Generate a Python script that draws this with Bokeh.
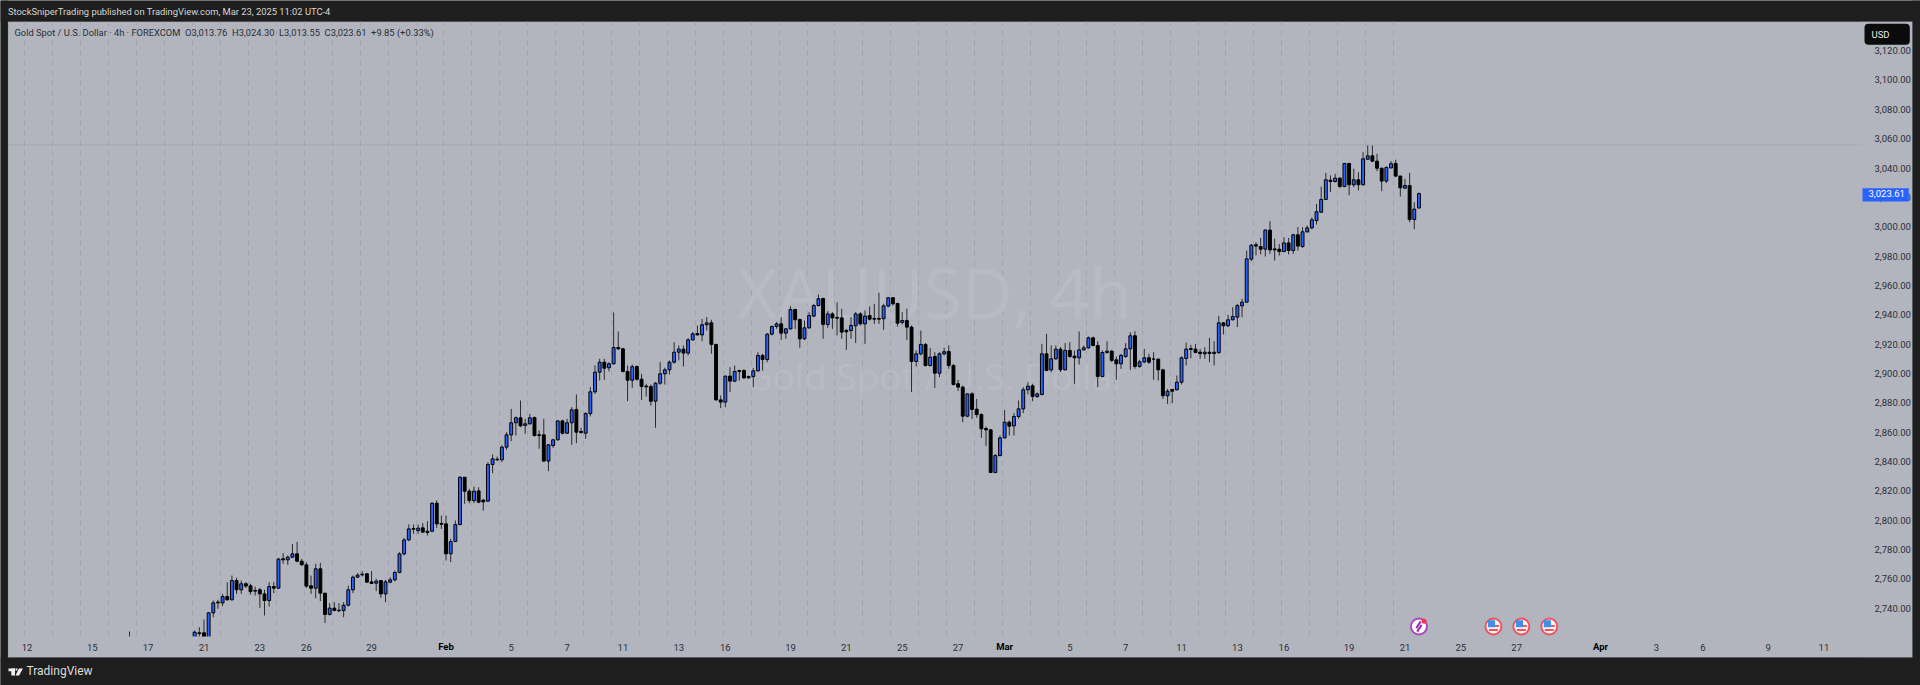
from bokeh.plotting import figure
from bokeh.embed import file_html
from bokeh.resources import INLINE
from bokeh.models import (ColumnDataSource, FixedTicker, LinearAxis, Range1d, Label, BoxAnnotation,
                          PolyAnnotation, NumeralTickFormatter, Span, Grid)

bar_index = [0] + list(range(14, 278))

opens = [2716,
 2716, 2724.3, 2724.3, 2720, 2737.9, 2745.2,
 2744.7, 2749.0, 2746.8, 2759.9, 2753.6, 2757.7, 2756.3, 2753.1, 2753.6, 2750.8,
 2746.3, 2755.8, 2754.7, 2774.7, 2774.0, 2775.8, 2778.1, 2773.1, 2770.6, 2756.3,
 2754.7, 2767.9, 2751.3, 2736.8, 2741.1, 2739.7, 2739.5, 2743.1, 2753.6, 2762.2,
 2764.2, 2764.5, 2759.0, 2758.1, 2759.9, 2750.8, 2758.8, 2760.4, 2765.4, 2778.1,
 2787.6, 2795.4, 2794.0, 2795.8, 2792.6, 2793.5, 2812.6, 2798.8, 2798.5, 2778.1,
 2786.5, 2798.1, 2830.3, 2820.8, 2814.4, 2821.0, 2814.7, 2814.0, 2839.0, 2842.6,
 2842.2, 2850.8, 2859.2, 2867.4, 2870.8, 2865.6, 2866.7, 2871.0, 2859.2, 2859.2,
 2841.3, 2851.9, 2855.8, 2868.7, 2860.3, 2867.4, 2876.5, 2861.5, 2860.3, 2873.7,
 2888.5, 2901.9, 2908.7, 2904.9, 2907.6, 2918.7, 2917.8, 2902.4, 2896.4, 2905.8,
 2897.1, 2892.4, 2892.1, 2882.1, 2894.4, 2900.8, 2903.5, 2908.7, 2915.5, 2917.6,
 2914.9, 2923.9, 2928.2, 2927.3, 2934.2, 2935.5, 2920.8, 2883.0, 2881.5, 2899.2,
 2895.8, 2903.0, 2903.0, 2898.0, 2898.9, 2902.8, 2913.3, 2910.5, 2927.8, 2933.0,
 2934.8, 2928.5, 2931.4, 2944.6, 2937.8, 2924.6, 2932.1, 2940.1, 2947.3, 2952.1,
 2934.4, 2941.6, 2939.2, 2938.9, 2930.3, 2930.3, 2933.5, 2941.6, 2934.8, 2940.5,
 2938.5, 2938.5, 2938.3, 2946.9, 2952.6, 2948.7, 2935.8, 2937.1, 2932.6, 2909.2,
 2914.4, 2920.8, 2906.4, 2912.6, 2901.2, 2914.4, 2916.0, 2906.4, 2894.0, 2891.7,
 2871.9, 2887.1, 2876.7, 2873.0, 2863.5, 2862.6, 2833.5, 2845.1, 2857.1, 2867.8,
 2865.3, 2871.7, 2876.9, 2889.9, 2892.6, 2885.3, 2886.7, 2914.4, 2903.5, 2911.0,
 2917.6, 2903.5, 2916.7, 2912.8, 2911.7, 2917.1, 2918.5, 2925.3, 2920.1, 2899.0,
 2915.3, 2916.2, 2910.3, 2907.6, 2912.6, 2917.8, 2926.7, 2905.8, 2908.9, 2911.7,
 2910.8, 2910.8, 2903.5, 2885.8, 2890.1, 2889.9, 2895.1, 2911.2, 2918.0, 2917.6,
 2915.5, 2914.4, 2915.5, 2914.6, 2915.1, 2935.5, 2933.5, 2937.6, 2939.4, 2947.1,
 2949.6, 2978.9, 2988.7, 2987.5, 2985.7, 2998.7, 2985.9, 2985.7, 2984.1, 2990.0,
 2984.8, 2995.5, 2987.5, 2997.5, 3000.2, 3005.2, 3010.9, 3019.6, 3032.7, 3031.8,
 3034.1, 3028.4, 3044.1, 3029.6, 3033.0, 3029.6, 3047.0, 3049.3, 3045.7, 3040.9,
 3032.1, 3041.1, 3044.1, 3035.5, 3027.3, 3029.1, 3005.9, 3013.76]

highs = [2725.2,
 2725.9, 2728.1, 2733.4, 2738.4, 2746.3, 2746.8,
 2750.8, 2758.8, 2763.3, 2761.8, 2759.9, 2758.8, 2757.7, 2755.8, 2754.9, 2753.6,
 2758.8, 2758.8, 2775.4, 2778.6, 2777.0, 2784.9, 2786.3, 2774.7, 2772.4, 2763.3,
 2771.3, 2772.0, 2751.3, 2744.5, 2745.2, 2744.5, 2745.2, 2756.5, 2763.3, 2764.9,
 2766.3, 2764.9, 2766.3, 2761.1, 2759.9, 2760.4, 2762.2, 2766.7, 2779.2, 2789.0,
 2798.1, 2798.1, 2798.1, 2799.0, 2800.4, 2813.3, 2814.5, 2804.2, 2804.2, 2788.3,
 2800.8, 2831.0, 2830.3, 2822.4, 2824.0, 2823.5, 2815.6, 2840.6, 2845.8, 2844.4,
 2852.0, 2861.0, 2876.9, 2871.7, 2882.6, 2870.1, 2873.5, 2871.7, 2862.2, 2870.1,
 2853.0, 2856.5, 2869.0, 2869.4, 2870.1, 2878.1, 2886.7, 2864.0, 2874.6, 2891.7,
 2906.4, 2911.0, 2911.0, 2908.7, 2942.6, 2929.6, 2918.5, 2906.4, 2907.1, 2906.4,
 2900.8, 2894.0, 2893.5, 2895.1, 2908.9, 2904.9, 2909.9, 2922.3, 2920.1, 2920.1,
 2925.1, 2929.2, 2933.7, 2938.2, 2939.4, 2937.6, 2921.2, 2886.0, 2899.6, 2905.3,
 2906.4, 2903.5, 2903.9, 2899.6, 2904.9, 2915.5, 2914.4, 2928.5, 2933.7, 2936.0,
 2939.4, 2932.1, 2946.9, 2945.1, 2938.3, 2937.1, 2942.8, 2948.5, 2954.8, 2952.6,
 2943.5, 2942.8, 2949.4, 2945.1, 2931.4, 2939.4, 2942.8, 2942.8, 2943.9, 2946.7,
 2948.5, 2956.0, 2948.5, 2953.0, 2953.0, 2949.2, 2942.8, 2945.1, 2933.7, 2916.7,
 2930.3, 2921.7, 2918.5, 2915.5, 2915.5, 2918.5, 2920.1, 2907.6, 2896.7, 2892.8,
 2887.6, 2888.3, 2883.7, 2874.0, 2864.9, 2863.1, 2846.2, 2858.7, 2876.2, 2869.0,
 2874.0, 2882.6, 2891.7, 2895.1, 2894.0, 2888.0, 2921.2, 2928.0, 2920.1, 2920.1,
 2918.9, 2921.7, 2922.3, 2916.7, 2929.6, 2920.1, 2926.2, 2926.2, 2923.0, 2916.7,
 2923.0, 2917.1, 2912.6, 2914.4, 2921.7, 2929.2, 2929.8, 2910.3, 2917.8, 2914.4,
 2915.5, 2911.0, 2904.2, 2890.5, 2890.5, 2899.6, 2912.6, 2922.1, 2920.5, 2921.2,
 2917.8, 2918.9, 2925.3, 2923.0, 2940.3, 2936.0, 2941.0, 2946.2, 2948.5, 2951.9,
 2984.8, 2989.3, 2990.5, 2993.4, 2999.3, 3004.8, 2992.8, 2989.3, 2993.9, 2993.4,
 2996.2, 3000.7, 3000.7, 3001.8, 3007.5, 3016.6, 3028.4, 3037.7, 3036.1, 3037.1,
 3034.8, 3044.5, 3044.5, 3040.5, 3038.2, 3051.8, 3056.4, 3056.4, 3050.7, 3041.1,
 3042.1, 3045.7, 3046.6, 3035.9, 3033.6, 3037.7, 3017.7, 3024.30]

lows = [2712,
 2714, 2716, 2715, 2716, 2734.9, 2740.6,
 2742.5, 2746.3, 2746.3, 2750.8, 2750.8, 2754.9, 2750.4, 2749.7, 2741.3, 2736.1,
 2742.2, 2751.3, 2754.3, 2771.3, 2770.6, 2775.4, 2772.4, 2770.2, 2754.9, 2750.8,
 2747.9, 2745.9, 2730.9, 2736.1, 2739.0, 2738.4, 2734.9, 2742.2, 2751.3, 2761.8,
 2762.7, 2758.3, 2757.7, 2752.7, 2748.1, 2745.2, 2758.1, 2759.3, 2764.9, 2777.0,
 2786.7, 2791.7, 2791.7, 2792.4, 2790.6, 2792.9, 2795.8, 2795.1, 2773.6, 2772.4,
 2786.1, 2797.5, 2812.2, 2812.6, 2812.6, 2812.6, 2807.6, 2813.5, 2833.1, 2841.3,
 2840.6, 2849.0, 2854.9, 2858.7, 2864.4, 2859.9, 2866.2, 2858.0, 2849.7, 2841.0,
 2834.4, 2850.3, 2855.3, 2859.4, 2859.9, 2852.4, 2853.5, 2859.9, 2856.5, 2871.7,
 2887.1, 2896.2, 2896.7, 2902.4, 2907.1, 2917.1, 2901.7, 2882.1, 2891.2, 2896.2,
 2883.0, 2885.3, 2879.2, 2864.0, 2893.3, 2893.5, 2900.3, 2907.6, 2909.9, 2905.8,
 2913.3, 2923.5, 2926.9, 2923.0, 2930.3, 2914.4, 2882.6, 2877.4, 2878.0, 2888.3,
 2895.1, 2896.2, 2897.4, 2897.4, 2891.7, 2902.4, 2903.0, 2908.7, 2926.9, 2931.4,
 2923.9, 2924.6, 2931.0, 2931.4, 2918.5, 2923.9, 2931.4, 2939.4, 2946.7, 2924.6,
 2932.1, 2931.4, 2926.9, 2924.6, 2917.1, 2924.6, 2921.7, 2933.7, 2921.2, 2937.1,
 2934.8, 2934.8, 2930.8, 2946.2, 2947.3, 2933.0, 2934.4, 2923.9, 2888.3, 2905.8,
 2913.3, 2905.8, 2905.8, 2891.2, 2898.5, 2913.3, 2904.2, 2892.8, 2889.0, 2867.8,
 2871.2, 2870.1, 2870.8, 2857.1, 2851.5, 2833.3, 2833.1, 2844.4, 2856.9, 2858.7,
 2858.7, 2870.1, 2874.0, 2886.7, 2882.1, 2884.4, 2886.0, 2902.6, 2901.9, 2910.3,
 2901.9, 2903.0, 2911.7, 2894.0, 2907.1, 2916.7, 2917.8, 2919.4, 2891.7, 2898.5,
 2914.4, 2908.7, 2896.7, 2904.2, 2911.7, 2903.5, 2904.2, 2904.9, 2908.0, 2907.6,
 2896.7, 2896.2, 2883.7, 2880.3, 2880.8, 2889.4, 2893.5, 2906.4, 2911.4, 2914.8,
 2911.0, 2911.0, 2908.7, 2906.4, 2914.8, 2927.6, 2932.6, 2937.1, 2932.6, 2939.4,
 2949.4, 2977.5, 2981.4, 2982.1, 2980.7, 2982.5, 2978.0, 2981.4, 2983.7, 2982.1,
 2982.5, 2984.8, 2986.6, 2997.1, 2999.3, 3002.5, 3010.5, 3019.3, 3024.6, 3031.1,
 3027.3, 3028.0, 3022.5, 3028.0, 3025.7, 3029.1, 3046.6, 3045.0, 3038.9, 3025.2,
 3030.7, 3040.7, 3034.8, 3021.6, 3026.8, 3004.1, 2999.3, 3013.55]

closes = [2718,
 2724.7, 2723.8, 2718, 2737.9, 2744.7, 2744.7,
 2749.0, 2746.8, 2759.9, 2753.6, 2757.7, 2756.1, 2752.4, 2752.7, 2750.8, 2746.3,
 2755.8, 2754.7, 2774.5, 2774.0, 2775.8, 2778.1, 2773.1, 2770.6, 2756.1, 2754.7,
 2767.9, 2751.3, 2736.8, 2741.1, 2739.5, 2739.3, 2743.1, 2753.6, 2762.2, 2763.6,
 2763.8, 2758.8, 2757.9, 2759.5, 2750.8, 2759.0, 2760.4, 2765.4, 2778.1, 2787.6,
 2795.1, 2794.9, 2795.6, 2792.9, 2793.5, 2812.6, 2798.5, 2798.3, 2778.1, 2786.5,
 2798.1, 2830.3, 2820.8, 2814.4, 2820.8, 2813.3, 2813.5, 2839.0, 2842.8, 2842.2,
 2850.8, 2859.2, 2867.4, 2870.8, 2865.3, 2866.7, 2870.8, 2858.7, 2858.7, 2841.3,
 2852.4, 2855.8, 2868.7, 2860.3, 2867.4, 2876.2, 2861.0, 2860.8, 2873.7, 2888.5,
 2901.9, 2908.7, 2904.6, 2907.6, 2918.7, 2917.8, 2902.4, 2896.4, 2905.6, 2897.1,
 2892.1, 2891.9, 2882.1, 2894.4, 2900.8, 2903.5, 2908.7, 2915.5, 2917.6, 2914.9,
 2923.9, 2928.0, 2927.3, 2934.2, 2935.5, 2920.8, 2883.0, 2881.5, 2899.2, 2895.8,
 2902.4, 2902.4, 2898.0, 2898.9, 2902.8, 2913.3, 2910.5, 2927.8, 2933.0, 2934.8,
 2928.5, 2931.4, 2944.6, 2937.6, 2924.6, 2932.1, 2940.5, 2947.3, 2951.9, 2934.4,
 2941.6, 2938.9, 2938.7, 2929.2, 2929.4, 2933.7, 2941.6, 2934.8, 2940.1, 2938.0,
 2938.0, 2938.0, 2947.1, 2952.6, 2948.5, 2935.3, 2937.1, 2932.6, 2909.2, 2914.4,
 2920.8, 2906.4, 2912.1, 2901.2, 2914.4, 2915.8, 2906.4, 2893.5, 2891.7, 2871.9,
 2887.1, 2876.5, 2873.0, 2863.3, 2862.6, 2833.5, 2845.1, 2857.1, 2867.8, 2865.1,
 2871.7, 2876.9, 2889.9, 2892.4, 2885.3, 2887.1, 2914.4, 2903.0, 2911.0, 2917.6,
 2903.5, 2916.7, 2912.6, 2911.7, 2917.1, 2918.5, 2925.3, 2920.1, 2899.0, 2915.3,
 2916.2, 2909.9, 2907.6, 2913.3, 2917.8, 2926.7, 2905.8, 2908.9, 2911.7, 2908.7,
 2910.8, 2903.5, 2885.8, 2888.9, 2888.9, 2895.1, 2911.7, 2917.6, 2917.4, 2915.3,
 2914.6, 2915.5, 2914.6, 2915.5, 2935.5, 2933.5, 2937.6, 2939.8, 2947.3, 2949.6,
 2979.1, 2988.4, 2987.8, 2985.7, 2998.7, 2985.2, 2985.2, 2984.1, 2990.0, 2984.8,
 2995.5, 2987.8, 2997.5, 3000.2, 3005.7, 3011.2, 3019.6, 3033.0, 3031.8, 3034.1,
 3028.4, 3044.1, 3029.6, 3033.0, 3029.6, 3047.3, 3049.3, 3045.7, 3040.9, 3032.1,
 3041.4, 3043.9, 3035.5, 3027.5, 3029.1, 3005.9, 3013.0, 3023.61]

assert len(bar_index) == len(opens) == len(highs) == len(lows) == len(closes), (
    len(bar_index), len(opens), len(highs), len(lows), len(closes))

price_ticks = [2740, 2760, 2780, 2800, 2820, 2840, 2860, 2880, 2900, 2920, 2940, 2960, 2980,
               3000, 3020, 3040, 3060, 3080, 3100, 3120]
date_ticks = [-22, -8, 4, 16, 28, 38, 52, 82, 94, 106, 118, 128, 142, 154, 166, 178,
              202, 214, 226, 238, 248, 262, 274, 286, 298, 328, 338, 352, 364]
date_labels = ["12", "15", "17", "21", "23", "26", "29", "5", "7", "11", "13", "16", "19", "21", "25", "27",
               "5", "7", "11", "13", "16", "19", "21", "25", "27", "3", "6", "9", "11"]
month_ticks = [68, 188, 316]
month_labels = ["Feb", "Mar", "Apr"]
day_grid = [-22.45 + 6 * k for k in range(50)]
event_bars = [293, 299, 305]
high_line = 3056.8
last_close = 3023.61

FONT = "Roboto"
BG = "#b2b5be"
DARK = "#1e1e1e"
INK = "#2a2e39"
AX_SIZE = "9.5px"
HEAD_SIZE = "9.35px"

def X(px):  # page pixel to bar position
    return (px - 129) / 4.655
def Y(py):  # page pixel to price
    return 3000 - (py - 227.7) / 1.4675

p = figure(width=1920, height=685, output_backend="svg", toolbar_location=None,
           x_range=Range1d(X(0), X(1920)), y_range=Range1d(Y(685), Y(0)),
           min_border_left=0, min_border_right=0, min_border_top=0, min_border_bottom=0,
           border_fill_color=DARK, background_fill_color=DARK, outline_line_color=None,
           x_axis_type=None, y_axis_type=None)
# the price scale's labels sit a little above their true height, as in the reference
p.extra_y_ranges = {"scale": Range1d(Y(686.5), Y(1.5))}

def box(l, r, t, b, color, level, **kw):
    p.add_layout(BoxAnnotation(left=X(l), right=X(r), top=Y(t), bottom=Y(b), fill_color=color, fill_alpha=1,
                               line_color=None, level=level, **kw))

# chart surface under everything
box(7.5, 1912, 21, 657, BG, "image")

p.add_layout(Grid(dimension=0, ticker=FixedTicker(ticks=day_grid), grid_line_color="#a0a3ac",
                  grid_line_dash="5 5", grid_line_width=1))

def label(text, px, py, size, color=INK, align="left", bold=False, font=FONT, level="overlay"):
    p.add_layout(Label(x=X(px), y=Y(py - 1), text=text, text_font=font, text_font_size=size, text_color=color,
                       text_align=align, text_baseline="middle", level=level,
                       text_font_style="bold" if bold else "normal"))

label("XAUUSD, 4h", 934, 292, "70px", color="#b8bbc3", align="center", font="Open Sans", level="underlay")
label("Gold Spot / U.S. Dollar", 936, 376, "37px", color="#b8bbc3", align="center", font="Open Sans", level="underlay")

p.add_layout(Span(location=high_line, dimension="width", line_color="#8d9098", line_dash="1 2", line_width=1,
                  level="underlay"))

src = ColumnDataSource(dict(x=bar_index, o=opens, h=highs, l=lows, c=closes,
                            top=[max(a, b) for a, b in zip(opens, closes)],
                            bot=[min(a, b) for a, b in zip(opens, closes)],
                            col=["#2962ff" if c >= o else "#000000" for o, c in zip(opens, closes)]))
p.segment("x", "h", "x", "l", source=src, line_color="#2b2b2b", line_width=1)
p.vbar(x="x", top="top", bottom="bot", width=0.62, source=src, fill_color="col", line_color="#000000", line_width=1)

# masks at guide level: price scale strip, time scale strip, outer dark bands
box(1861, 1912, 21, 657, BG, "guide")
box(7.5, 1912, 636, 657, BG, "guide")
box(0, 1920, 0, 21, DARK, "guide")
box(0, 1920, 657, 685, DARK, "guide")
box(0, 7.5, 0, 685, DARK, "guide")
box(1912, 1920, 0, 685, DARK, "guide")
p.add_layout(BoxAnnotation(left=X(7.5), right=X(1912), top=Y(21), bottom=Y(657), fill_alpha=0,
                           line_color="#5f6268", line_width=1, level="guide"))

# event markers
icon_y = Y(626)
p.scatter(x=[277], y=[icon_y], size=16, marker="circle", fill_color="#ffffff", line_color="#ab47bc", line_width=2)
p.scatter(x=[276.9, 277.1], y=[icon_y + 1.2, icon_y - 1.2], size=8, marker="dash", angle=1.0,
          line_color="#9c27b0", line_width=2)
p.scatter(x=[278.1], y=[icon_y + 3.6], size=5, marker="circle", fill_color="#f23645", line_color=None)
p.scatter(x=event_bars, y=[icon_y] * 3, size=16, marker="circle", fill_color="#f5f5f5", line_color="#f0525c", line_width=2)
for dy, w in ((0.4, 11), (-2.4, 9)):
    p.scatter(x=event_bars, y=[icon_y + dy] * 3, size=w, marker="dash", line_color="#f0525c", line_width=2)
p.scatter(x=[b - 0.4 for b in event_bars], y=[icon_y + 1.9] * 3, size=7, marker="square", fill_color="#3f8fe8", line_color=None)

# axes drawn inside the frame
yax = LinearAxis(ticker=FixedTicker(ticks=price_ticks), formatter=NumeralTickFormatter(format="0,0.00"),
                 fixed_location=X(1860), level="annotation", y_range_name="scale")
yax.major_tick_line_color = None
yax.minor_tick_line_color = None
yax.axis_line_color = None
yax.major_label_standoff = 8
yax.major_label_text_font = FONT
yax.major_label_text_font_size = AX_SIZE
yax.major_label_text_color = INK
p.add_layout(yax, "right")

xax = LinearAxis(ticker=FixedTicker(ticks=date_ticks),
                 major_label_overrides={t: l for t, l in zip(date_ticks, date_labels)},
                 fixed_location=Y(636), level="annotation")
xax.major_tick_line_color = None
xax.minor_tick_line_color = None
xax.axis_line_color = None
xax.major_label_standoff = 1
xax.major_label_text_font = FONT
xax.major_label_text_font_size = AX_SIZE
xax.major_label_text_color = INK
p.add_layout(xax, "below")

for t, l in zip(month_ticks, month_labels):
    p.add_layout(Label(x=t, y=Y(645.7), text=l, text_font=FONT, text_font_size=AX_SIZE, text_color="#000000",
                       text_align="center", text_baseline="middle", text_font_style="bold", level="overlay"))

# texts around the chart
label("StockSniperTrading published on TradingView.com, Mar 23, 2025 11:02 UTC-4", 7.5, 11.7, HEAD_SIZE,
      color="#d8d8d8")
nb = "\u00a0\u00a0"
label(f"Gold Spot / U.S. Dollar · 4h · FOREXCOM{nb}O3,013.76{nb}H3,024.30{nb}L3,013.55{nb}C3,023.61{nb}+9.85 (+0.33%)",
      14, 32.7, HEAD_SIZE)
box(1864, 1909.3, 23.3, 44.3, "#0b0b0c", "annotation", border_radius=4)
label("USD", 1871, 34.5, AX_SIZE, color="#e8e8e8")
box(1862, 1908.3, 187.7, 201, "#2962ff", "annotation")
label(f"{last_close:,.2f}", 1868, 194, AX_SIZE, color="#ffffff")

# footer logo
WHITE = "#eeeeee"
box(8, 14.5, 668, 670.7, WHITE, "annotation")
box(10.8, 14.5, 668, 675, WHITE, "annotation")
box(15, 17, 668, 670, WHITE, "annotation")
p.add_layout(PolyAnnotation(xs=[X(18.5), X(22.5), X(18.5), X(15)], ys=[Y(668), Y(668), Y(675), Y(675)],
                            fill_color=WHITE, fill_alpha=1, line_color=None, level="annotation"))
label("TradingView", 26, 671, "12px", color="#dddddd")

open("out.html", "w").write(file_html(p, INLINE))
